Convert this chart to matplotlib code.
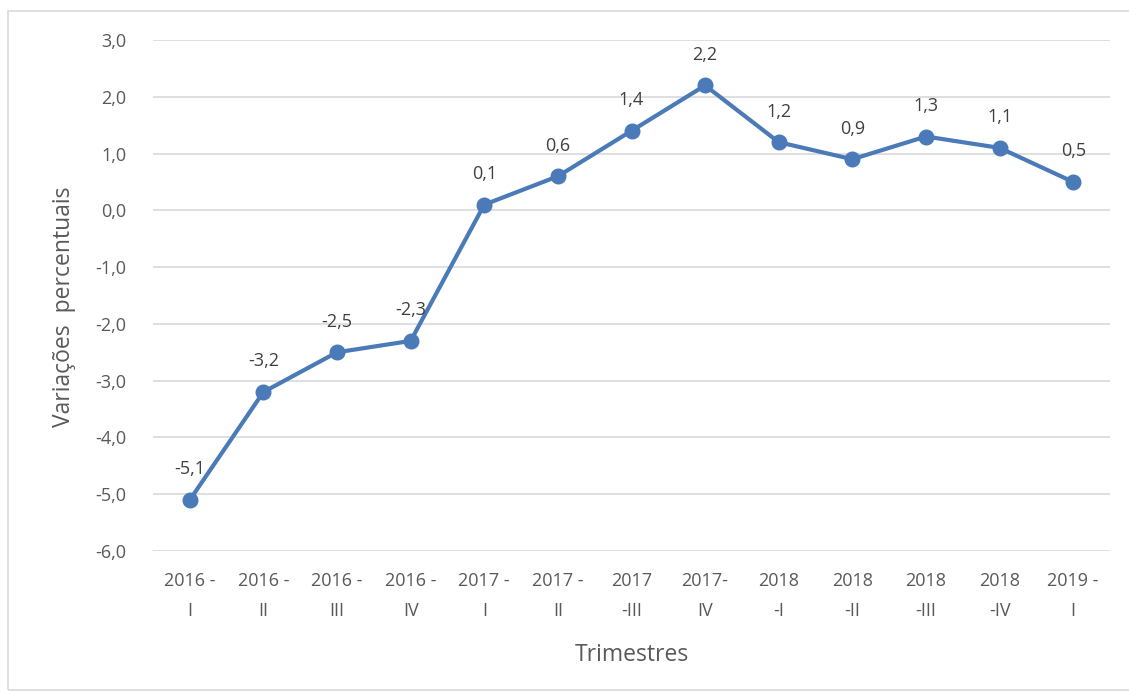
import matplotlib
matplotlib.use("Agg")
import matplotlib.pyplot as plt
from matplotlib.patches import Rectangle

categories = ["2016 -\nI", "2016 -\nII", "2016 -\nIII", "2016 -\nIV", "2017 -\nI",
              "2017 -\nII", "2017\n-III", "2017-\nIV", "2018\n-I", "2018\n-II",
              "2018\n-III", "2018\n-IV", "2019 -\nI"]
values = [-5.1, -3.2, -2.5, -2.3, 0.1, 0.6, 1.4, 2.2, 1.2, 0.9, 1.3, 1.1, 0.5]
yticks = [3, 2, 1, 0, -1, -2, -3, -4, -5, -6]

W, H = 1129, 691
plt.rcParams['font.family'] = ['Open Sans', 'DejaVu Sans']
fig = plt.figure(figsize=(W / 100, H / 100), dpi=100)
fig.patch.set_facecolor('white')

# outer chart border
fig.patches.append(Rectangle((8 / W, 1 - 690 / H), (1140 - 8) / W, (690 - 11) / H,
                             transform=fig.transFigure, fill=False,
                             edgecolor='#d9d9d9', linewidth=1.2))

ax = fig.add_axes([153 / W, 1 - 551 / H, (1110 - 153) / W, (551 - 40) / H])
x = list(range(len(values)))
color = '#4a7ab8'
ax.plot(x, values, color=color, linewidth=3.0, marker='o', markersize=10.5,
        markerfacecolor=color, markeredgecolor=color, zorder=3)

for xi, v in zip(x, values):
    ax.annotate(f"{v:.1f}".replace('.', ','), (xi, v), xytext=(0, 22),
                textcoords='offset points', ha='center', va='center',
                fontsize=13, color='#404040')

ax.set_xlim(-0.5, len(values) - 0.5)
ax.set_ylim(-6, 3)
ax.set_yticks(yticks)
ax.set_yticklabels([f"{t:.1f}".replace('.', ',') for t in yticks])
ax.set_xticks(x)
ax.set_xticklabels(categories, linespacing=1.85)
ax.tick_params(axis='both', length=0, labelsize=13, labelcolor='#595959')
ax.tick_params(axis='x', pad=15)
ax.tick_params(axis='y', pad=19)
for s in ax.spines.values():
    s.set_visible(False)
ax.grid(axis='y', color='#d9d9d9', linewidth=1.2)
ax.set_axisbelow(True)

ax.set_ylabel("Variações  percentuais", fontsize=16.5, color='#595959')
ax.yaxis.set_label_coords(-0.08, 0.478)
ax.set_xlabel("Trimestres", fontsize=16.5, color='#595959', labelpad=17)

fig.savefig("out.png", dpi=100, facecolor='white')
